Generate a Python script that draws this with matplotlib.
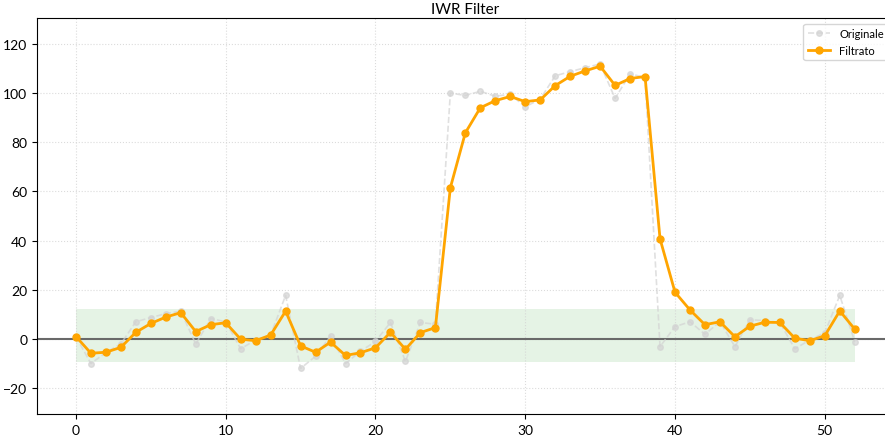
import numpy as np
import matplotlib
matplotlib.use("Agg")
import matplotlib.pyplot as plt

plt.rcParams['font.family'] = ['Lato', 'DejaVu Sans']

# valori
originale = [1, -10, -5.5, -2, 7, 8.7, 10.3, 11.3, -2.1, 8.3,
             7, -4, -0.4, 1.6, 17.7, -12, -7, 1.2, -10, -5,
             -1, 6.7, -9.1, 6.7, 6, 100, 99, 100.7, 98.7, 99.5,
             94.4, 97.5, 107, 108.7, 110.3, 111.8, 97.8, 107.8, 106.3, -3.1,
             5, 7, 1.9, 7, -3.1, 7.8, 7.5, 6.7, -4, -0.4,
             2.5, 17.7, -1.1]
filtrato = [1, -5.8, -5.4, -3.4, 2.7, 6.3, 8.9, 10.7, 3.0, 5.8,
            6.6, -0.1, -0.7, 1.6, 11.3, -2.8, -5.4, -1.3, -6.7, -5.6,
            -3.6, 2.7, -4.2, 2.6, 4.6, 61.5, 83.8, 94, 96.9, 98.6,
            96.5, 97.2, 103, 106.8, 109, 110.9, 103.1, 105.9, 106.7, 40.7,
            19, 11.8, 5.8, 7, 0.9, 5.2, 6.8, 6.7, 0.3, -0.7,
            1.3, 11.4, 4]
soglia_alta = 12
soglia_bassa = -9.5

x = np.arange(len(originale))

fig = plt.figure(figsize=(8.85, 4.39), dpi=100)
ax = fig.add_axes([0.0418, 0.0547, 0.968, 0.902])

ax.fill_between(x, soglia_bassa, soglia_alta, color='#2ca02c', alpha=0.12, linewidth=0)
ax.axhline(0, color='dimgray', linewidth=1.5)
ax.plot(x, originale, '--', color='lightgray', marker='o', markersize=4,
        linewidth=1.2, alpha=0.7, label='Originale')
ax.plot(x, filtrato, '-', color='orange', marker='o', markersize=5,
        linewidth=2, label='Filtrato')

ax.set_xlim(-2.6, 54.6)
ax.set_ylim(-30.5, 130.5)
ax.set_title('IWR Filter', fontsize=11, pad=3.5)
ax.grid(True, linestyle=':', color='lightgray', alpha=0.8)
ax.tick_params(labelsize=10)
ax.legend(loc='upper right', fontsize=8)

fig.savefig('out.png', dpi=100)
